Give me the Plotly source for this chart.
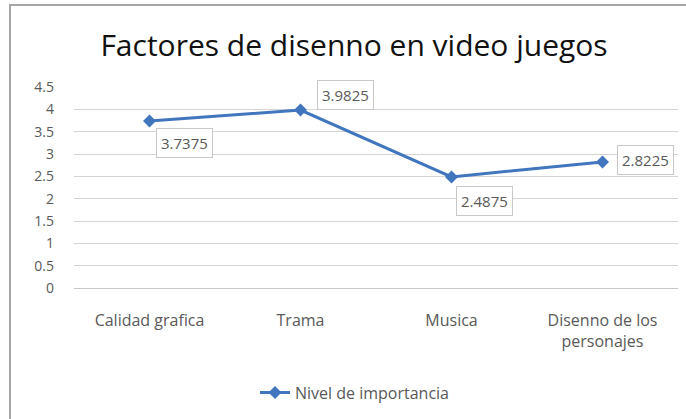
import plotly.graph_objects as go

categories = ["Calidad grafica", "Trama", "Musica", "Disenno de los<br>personajes"]
values = [3.7375, 3.9825, 2.4875, 2.8225]
label_texts = ["3.7375", "3.9825", "2.4875", "2.8225"]
series_name = "Nivel de importancia"
title_text = "Factores de disenno en video juegos"
y_ticks = [0, 0.5, 1, 1.5, 2, 2.5, 3, 3.5, 4, 4.5]
y_ticklabels = ["0", "0.5", "1", "1.5", "2", "2.5", "3", "3.5", "4", "4.5"]

label_offsets = [(35, -22), (45, 15), (33, -24), (43, 2)]

FONT = "Open Sans"
GRAY = "#595959"
BLUE = "#4176be"

fig = go.Figure()
fig.add_trace(go.Scatter(
    x=categories, y=values, name=series_name,
    mode="lines+markers",
    line=dict(color=BLUE, width=3),
    marker=dict(symbol="diamond", size=10, color=BLUE),
    showlegend=True,
))

for c, v, t, (dx, dy) in zip(categories, values, label_texts, label_offsets):
    fig.add_annotation(
        x=c, y=v, text=t, showarrow=False,
        xshift=dx, yshift=dy,
        font=dict(family=FONT, size=15, color=GRAY),
        bgcolor="white", bordercolor="#c8c8c8", borderwidth=1, borderpad=4,
    )

fig.update_layout(
    width=686, height=419,
    margin=dict(l=74, r=8, t=87, b=131),
    paper_bgcolor="white", plot_bgcolor="white",
    font=dict(family=FONT, size=14, color=GRAY),
    title=dict(text=title_text, x=354/686, xref="container", xanchor="center",
               y=1-45/419, yanchor="middle",
               font=dict(family=FONT, size=30, color="#111111")),
    legend=dict(orientation="h", x=(255-74)/604, xanchor="left", y=-0.52, yanchor="middle",
                font=dict(family=FONT, size=16, color=GRAY), bgcolor="rgba(0,0,0,0)"),
    shapes=[dict(type="rect", xref="paper", yref="paper",
                 x0=(10-74)/604, x1=1.2, y0=-1.0, y1=(288-5)/201,
                 line=dict(color="#a6a6a6", width=2), layer="below")],
)

fig.update_xaxes(
    range=[-0.5, 3.5],
    showgrid=False, showline=False, zeroline=False,
    ticks="", ticklabelstandoff=21,
    tickfont=dict(family=FONT, size=16, color=GRAY),
)
fig.update_yaxes(
    range=[0, 4.5], tickvals=y_ticks, ticktext=y_ticklabels,
    showgrid=True, gridcolor="#d4d4d4", gridwidth=1,
    zeroline=True, zerolinecolor="#c8c8c8", zerolinewidth=1,
    showline=False, ticks="", ticklabelstandoff=19,
    tickfont=dict(family=FONT, size=14, color=GRAY),
)

fig.write_html("out.html", config={"displayModeBar": False},
               post_script="document.body.style.margin='0';")
